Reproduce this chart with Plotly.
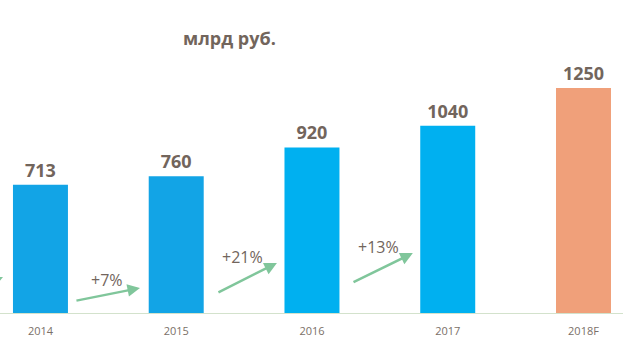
import plotly.graph_objects as go

categories = ["2014", "2015", "2016", "2017", "2018F"]
values = [713, 760, 920, 1040, 1250]
growth_labels = ["+7%", "+21%", "+13%"]
title_text = "млрд руб."

bar_colors = ["#12A4E6", "#12A4E6", "#00B0F0", "#00B0F0", "#F0A07A"]
label_color = "#72655C"
arrow_color = "#80C69B"

x_idx = list(range(len(categories)))

fig = go.Figure()
fig.add_trace(go.Bar(
    x=x_idx, y=values, width=0.405,
    marker=dict(color=bar_colors, line=dict(width=0)),
    text=[str(v) for v in values], textposition="outside",
    textfont=dict(family="Open Sans", size=18, color=label_color, weight="bold"),
    cliponaxis=False, hoverinfo="skip",
))

annotations = []
# arrow geometry (tail x offset, tail y, head x offset, head y) relative to the left category
arrow_geom = [
    (0.254, 67, 0.733, 139),
    (0.300, 111, 0.742, 278),
    (0.295, 167, 0.743, 333),
]
text_y = [183, 311, 367]
for i, lab in enumerate(growth_labels):
    tx, ty, hx, hy = arrow_geom[i]
    annotations.append(dict(
        x=i + hx, y=hy, ax=i + tx, ay=ty, xref="x", yref="y", axref="x", ayref="y",
        text="", showarrow=True, arrowhead=2, arrowsize=1, arrowwidth=2.5,
        arrowcolor=arrow_color,
    ))
    annotations.append(dict(
        x=i + 0.49, y=text_y[i], xref="x", yref="y", text=lab, showarrow=False,
        font=dict(family="Open Sans", size=16, color=label_color),
    ))
# arrow entering from the left edge (previous year, cut off)
annotations.append(dict(
    x=-0.276, y=200, ax=-0.74, ay=44, xref="x", yref="y", axref="x", ayref="y",
    text="", showarrow=True, arrowhead=2, arrowsize=1, arrowwidth=2.5,
    arrowcolor=arrow_color,
))
annotations.append(dict(
    x=0.3676, y=1.007, xref="paper", yref="paper", text="<b>" + title_text + "</b>",
    showarrow=False, yanchor="middle",
    font=dict(family="Open Sans", size=18, color=label_color),
))

fig.update_layout(
    width=623, height=362,
    margin=dict(l=0, r=0, t=40, b=49),
    paper_bgcolor="white", plot_bgcolor="white",
    showlegend=False,
    annotations=annotations,
    xaxis=dict(
        range=[-0.298, 4.291], tickvals=x_idx, ticktext=categories,
        showgrid=False, zeroline=False, showline=True, linecolor="#D3E2CC", linewidth=1,
        ticks="", ticklabelstandoff=8,
        tickfont=dict(family="Open Sans", size=11, color="#7A7068"),
        fixedrange=True,
    ),
    yaxis=dict(range=[0, 1517], visible=False, fixedrange=True),
)

fig.write_html("out.html", config={"displayModeBar": False},
               post_script="document.body.style.margin='0';")
